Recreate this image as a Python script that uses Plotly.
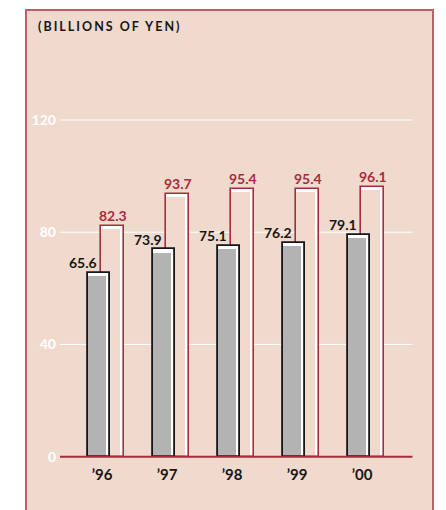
import plotly.graph_objects as go

# Net sales, billions of yen
years = ["’96", "’97", "’98", "’99", "’00"]
group_sales = [65.6, 73.9, 75.1, 76.2, 79.1]     # grey bars
total_sales = [82.3, 93.7, 95.4, 95.4, 96.1]     # outlined bars
y_ticks = [0, 40, 80, 120]

BG = "#f0dacd"
FRAME = "#c35d69"
RED = "#a72c3c"
GREY = "#b3b3b3"
INK = "#161616"
FONT = "Lato"

W, H = 446, 510
L, R, T, B = 26, 13, 10, 0
plot_w, plot_h = W - L - R, H - T - B

# pixel geometry -> data units
CAT_PX = 65.0          # distance between year groups
X0_PX = 99.0 - L       # centre of the first grey bar inside the plot area
Y0_PX = 456.7 - T      # zero line inside the plot area
PX_PER_UNIT = (456.7 - 120.0) / 120.0

xr = [-X0_PX / CAT_PX, (plot_w - X0_PX) / CAT_PX]
yr = [-(plot_h - Y0_PX) / PX_PER_UNIT, Y0_PX / PX_PER_UNIT]

def px_x(p):
    return p / CAT_PX

def px_y(p):
    return p / PX_PER_UNIT

xs = list(range(len(years)))
bar_w = px_x(22.5)
red_off = px_x(13.5)

fig = go.Figure()

def framed_bars(values, centre_shift, fill, edge, edge_w, strip_px):
    xc = [x + centre_shift for x in xs]
    # white body (shows as the highlight strip on top and right)
    fig.add_trace(go.Bar(x=xc, y=values, width=bar_w, marker=dict(color="white", line=dict(width=0)),
                         hoverinfo="skip", showlegend=False))
    # coloured body, narrower on the right and lower at the top
    inner_w = bar_w - px_x(strip_px)
    fig.add_trace(go.Bar(x=[x - px_x(strip_px) / 2 for x in xc],
                         y=[v - px_y(strip_px * 0.8) for v in values],
                         width=inner_w, marker=dict(color=fill, line=dict(width=0)),
                         hoverinfo="skip", showlegend=False))
    # outline
    fig.add_trace(go.Bar(x=xc, y=values, width=bar_w,
                         marker=dict(color="rgba(0,0,0,0)", line=dict(color=edge, width=edge_w)),
                         hoverinfo="skip", showlegend=False))

framed_bars(total_sales, red_off, BG, RED, 1.6, 4.0)
framed_bars(group_sales, 0.0, GREY, INK, 1.8, 4.0)

# value labels
for x, v in zip(xs, group_sales):
    fig.add_annotation(x=x, y=v, text=f"{v:.1f}", xanchor="right", yanchor="bottom",
                       xshift=-0.5, yshift=-0.5, showarrow=False,
                       font=dict(family=FONT, size=14, color=INK, weight="bold"))
for x, v in zip(xs, total_sales):
    fig.add_annotation(x=x + red_off, y=v, text=f"{v:.1f}", xanchor="center", yanchor="bottom",
                       yshift=0, showarrow=False,
                       font=dict(family=FONT, size=14, color=RED, weight="bold"))

# grid lines and zero line
g0, g1 = px_x(60 - L - X0_PX), px_x(412.5 - L - X0_PX)
for t in y_ticks[1:]:
    fig.add_shape(type="line", xref="x", yref="y", x0=g0, x1=g1, y0=t, y1=t,
                  line=dict(color="white", width=1), layer="below")
fig.add_shape(type="line", xref="x", yref="y", x0=g0, x1=g1, y0=0, y1=0,
              line=dict(color=RED, width=2), layer="above")

# panel frame
fig.add_shape(type="rect", xref="paper", yref="paper", x0=0, x1=1, y0=-0.1, y1=1,
              line=dict(color=FRAME, width=2), layer="above")

fig.add_annotation(xref="paper", yref="paper", x=(36 - L) / plot_w, y=(H - B - 26) / plot_h,
                   xanchor="left", yanchor="middle",
                   text="<span style='letter-spacing:2px'>(BILLIONS OF YEN)</span>", showarrow=False,
                   font=dict(family=FONT, size=12.5, color=INK, weight="bold"))

fig.update_layout(
    width=W, height=H,
    margin=dict(l=L, r=R, t=T, b=B, pad=0),
    paper_bgcolor="white", plot_bgcolor=BG,
    barmode="overlay", bargap=0,
    xaxis=dict(range=xr, showgrid=False, zeroline=False, showline=False,
               tickvals=[x + px_x(3) for x in xs], ticktext=years, ticks="",
               anchor="free", position=(H - 456.7 - B) / plot_h, ticklabelstandoff=7,
               tickfont=dict(family=FONT, size=15, color=INK, weight="bold")),
    yaxis=dict(range=yr, showgrid=False, zeroline=False, showline=False,
               tickvals=y_ticks, ticks="", anchor="free", position=(58 - L) / plot_w,
               ticklabelstandoff=2,
               tickfont=dict(family=FONT, size=14, color="white", weight="bold")),
)

fig.write_html("out.html")
